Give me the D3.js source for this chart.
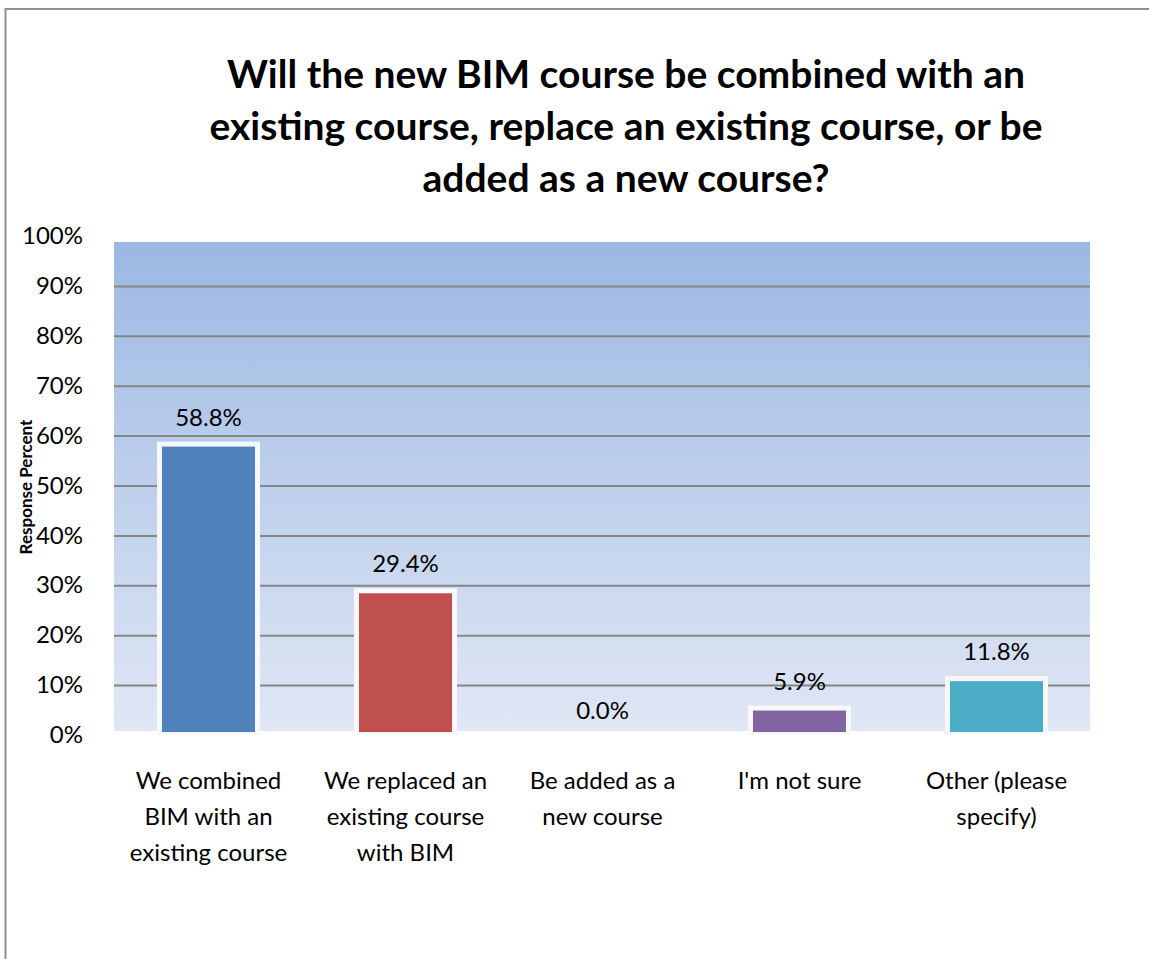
<!DOCTYPE html>
<html lang="en">
<head>
  <meta charset="UTF-8" />
  <title>BIM course survey</title>
  <script src="https://d3js.org/d3.v7.min.js"></script>
  <style>
    body {
      margin: 0;
      background: #fff;
      font-family: Lato, 'Noto Sans', sans-serif;
    }
    .tick text {
      fill: #000;
    }
    .grid line {
      stroke: #868686;
      stroke-width: 2px;
    }
  </style>
</head>
<body>
  <svg id="chart" width="1149" height="959"></svg>

  <script>
    // Chart data
    const titleLines = [
      "Will the new BIM course be combined with an",
      "existing course, replace an existing course, or be",
      "added as a new course?"
    ];
    const categories = [
      ["We combined", "BIM with an", "existing course"],
      ["We replaced an", "existing course", "with BIM"],
      ["Be added as a", "new course"],
      ["I'm not sure"],
      ["Other (please", "specify)"]
    ];
    const values = [58.8, 29.4, 0.0, 5.9, 11.8];
    const barColors = ["#4f81bd", "#c0504d", "#9bbb59", "#8064a2", "#4bacc6"];
    const yTicks = [0, 10, 20, 30, 40, 50, 60, 70, 80, 90, 100];
    const yLabel = "Response Percent";

    const svg = d3.select("#chart");

    // outer frame (right and bottom edges fall outside the picture)
    svg.append("rect")
      .attr("x", 5.5).attr("y", 9)
      .attr("width", 1200).attr("height", 1000)
      .attr("fill", "#fff")
      .attr("stroke", "#8f8f8f")
      .attr("stroke-width", 2);

    // plot area
    const plot = { left: 114, right: 1090, top: 242, bottom: 731 };

    const y = d3.scaleLinear().domain([0, 100]).range([735, 236]);
    const x = d3.scaleBand()
      .domain(d3.range(categories.length))
      .range([110, 1095])
      .paddingInner(0.477)
      .paddingOuter(0.2385);

    const defs = svg.append("defs");
    const grad = defs.append("linearGradient")
      .attr("id", "bg").attr("x1", 0).attr("y1", 0).attr("x2", 0).attr("y2", 1);
    grad.append("stop").attr("offset", "0%").attr("stop-color", "#9cb8e3");
    grad.append("stop").attr("offset", "100%").attr("stop-color", "#e0e7f5");

    svg.append("rect")
      .attr("x", plot.left).attr("y", plot.top)
      .attr("width", plot.right - plot.left)
      .attr("height", plot.bottom - plot.top)
      .attr("fill", "url(#bg)");

    // gridlines
    svg.append("g")
      .attr("class", "grid")
      .attr("transform", `translate(${plot.left},0)`)
      .call(d3.axisRight(y)
        .tickValues(yTicks.filter(d => d > 0 && d < 100))
        .tickSize(plot.right - plot.left)
        .tickFormat(""))
      .call(g => g.select(".domain").remove());

    // y axis labels
    svg.append("g")
      .attr("transform", "translate(83,0)")
      .call(d3.axisLeft(y).tickValues(yTicks).tickSize(0).tickPadding(0).tickFormat(d => d + "%"))
      .call(g => g.select(".domain").remove())
      .call(g => g.selectAll("text")
        .attr("font-family", "Lato, sans-serif")
        .attr("font-size", "24px"));

    // bars: white frame, coloured fill
    const bars = svg.append("g").selectAll("g")
      .data(values.map((v, i) => ({ v, i })).filter(d => d.v > 0))
      .join("g");

    bars.append("rect")
      .attr("x", d => x(d.i))
      .attr("y", d => y(d.v))
      .attr("width", x.bandwidth())
      .attr("height", d => y(0) - y(d.v))
      .attr("fill", "#f8f8f8");

    bars.append("rect")
      .attr("x", d => x(d.i) + 5)
      .attr("y", d => y(d.v) + 5)
      .attr("width", x.bandwidth() - 10)
      .attr("height", d => y(0) - y(d.v) - 8)
      .attr("fill", d => barColors[d.i]);

    // value labels
    svg.append("g").selectAll("text")
      .data(values)
      .join("text")
      .attr("x", (d, i) => x(i) + x.bandwidth() / 2)
      .attr("y", d => y(d) - 16)
      .attr("text-anchor", "middle")
      .attr("font-size", "24px")
      .text(d => d.toFixed(1) + "%");

    // category labels
    const cat = svg.append("g").selectAll("text")
      .data(categories)
      .join("text")
      .attr("text-anchor", "middle")
      .attr("font-size", "24px")
      .attr("transform", (d, i) => `translate(${x(i) + x.bandwidth() / 2},789)`);
    cat.selectAll("tspan")
      .data(d => d)
      .join("tspan")
      .attr("x", 0)
      .attr("y", (d, j) => j * 36)
      .text(d => d);

    // y axis title
    svg.append("text")
      .attr("transform", "translate(32,487) rotate(-90)")
      .attr("text-anchor", "middle")
      .attr("font-size", "17px")
      .attr("font-weight", "bold")
      .text(yLabel);

    // title
    svg.append("g").selectAll("text")
      .data(titleLines)
      .join("text")
      .attr("x", 626)
      .attr("y", (d, i) => 88 + i * 52)
      .attr("text-anchor", "middle")
      .attr("font-size", "39px")
      .attr("font-weight", "bold")
      .text(d => d);
  </script>
</body>
</html>
